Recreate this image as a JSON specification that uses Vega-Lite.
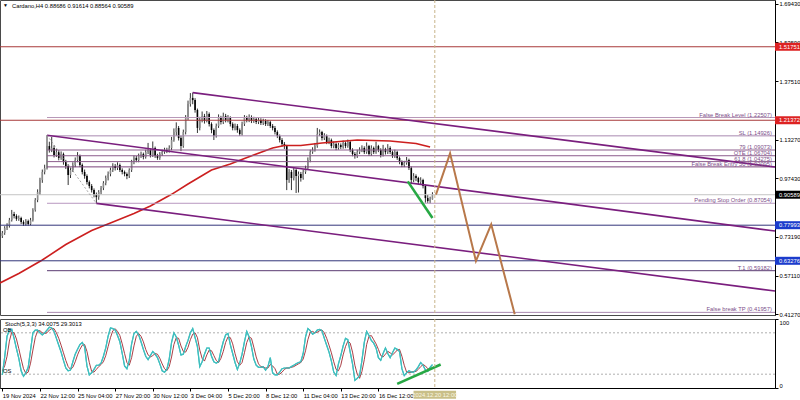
{
"$schema": "https://vega.github.io/schema/vega-lite/v6.json",
"background": "#ffffff",
"padding": {"left": -4, "top": -1, "right": 0, "bottom": 0},
"spacing": -3,
"config": {
 "view": {"stroke": "#4a4a4a", "strokeWidth": 1},
 "font": "Liberation Sans",
 "text": {"font": "Liberation Sans", "fontSize": 5.8},
 "axis": {"labelFont": "Liberation Sans", "labelFontSize": 5.8, "labelColor": "#000000", "domainColor": "#000000", "tickColor": "#000000", "grid": false}
},
"datasets": {
 "bars": [
{"t":"2024-11-19T20:00Z","o":0.735,"h":0.756,"l":0.727,"c":0.748,"k":19,"d":25},
{"t":"2024-11-20T00:00Z","o":0.748,"h":0.776,"l":0.740,"c":0.768,"k":45,"d":32},
{"t":"2024-11-20T04:00Z","o":0.768,"h":0.788,"l":0.760,"c":0.777,"k":75,"d":46},
{"t":"2024-11-20T08:00Z","o":0.777,"h":0.810,"l":0.770,"c":0.801,"k":84,"d":68},
{"t":"2024-11-20T12:00Z","o":0.801,"h":0.843,"l":0.795,"c":0.826,"k":85,"d":81},
{"t":"2024-11-20T16:00Z","o":0.826,"h":0.835,"l":0.808,"c":0.818,"k":72,"d":80},
{"t":"2024-11-20T20:00Z","o":0.818,"h":0.825,"l":0.798,"c":0.806,"k":57,"d":71},
{"t":"2024-11-21T00:00Z","o":0.806,"h":0.820,"l":0.798,"c":0.810,"k":43,"d":57},
{"t":"2024-11-21T04:00Z","o":0.810,"h":0.815,"l":0.785,"c":0.793,"k":25,"d":42},
{"t":"2024-11-21T08:00Z","o":0.793,"h":0.800,"l":0.777,"c":0.785,"k":17,"d":28},
{"t":"2024-11-21T12:00Z","o":0.785,"h":0.805,"l":0.778,"c":0.797,"k":22,"d":21},
{"t":"2024-11-21T16:00Z","o":0.797,"h":0.803,"l":0.778,"c":0.785,"k":30,"d":23},
{"t":"2024-11-21T20:00Z","o":0.785,"h":0.810,"l":0.780,"c":0.801,"k":55,"d":36},
{"t":"2024-11-22T00:00Z","o":0.801,"h":0.850,"l":0.795,"c":0.843,"k":80,"d":55},
{"t":"2024-11-22T04:00Z","o":0.843,"h":0.892,"l":0.836,"c":0.884,"k":84,"d":73},
{"t":"2024-11-22T08:00Z","o":0.884,"h":0.928,"l":0.875,"c":0.917,"k":84,"d":83},
{"t":"2024-11-22T12:00Z","o":0.917,"h":0.976,"l":0.905,"c":0.967,"k":80,"d":83},
{"t":"2024-11-22T16:00Z","o":0.967,"h":1.010,"l":0.955,"c":1.000,"k":77,"d":80},
{"t":"2024-11-22T20:00Z","o":1.000,"h":1.030,"l":0.990,"c":1.016,"k":80,"d":79},
{"t":"2024-11-23T00:00Z","o":1.016,"h":1.152,"l":1.010,"c":1.107,"k":84,"d":80},
{"t":"2024-11-23T04:00Z","o":1.107,"h":1.125,"l":1.080,"c":1.091,"k":88,"d":84},
{"t":"2024-11-23T08:00Z","o":1.091,"h":1.145,"l":1.082,"c":1.099,"k":87,"d":86},
{"t":"2024-11-23T12:00Z","o":1.099,"h":1.110,"l":1.060,"c":1.070,"k":82,"d":86},
{"t":"2024-11-23T16:00Z","o":1.070,"h":1.095,"l":1.062,"c":1.082,"k":72,"d":80},
{"t":"2024-11-23T20:00Z","o":1.082,"h":1.090,"l":1.048,"c":1.058,"k":62,"d":72},
{"t":"2024-11-24T00:00Z","o":1.058,"h":1.085,"l":1.050,"c":1.074,"k":52,"d":62},
{"t":"2024-11-24T04:00Z","o":1.074,"h":1.080,"l":1.030,"c":1.041,"k":40,"d":51},
{"t":"2024-11-24T08:00Z","o":1.041,"h":1.050,"l":1.012,"c":1.025,"k":29,"d":40},
{"t":"2024-11-24T12:00Z","o":1.025,"h":1.032,"l":0.946,"c":0.987,"k":25,"d":31},
{"t":"2024-11-24T16:00Z","o":0.987,"h":1.018,"l":0.975,"c":1.008,"k":26,"d":27},
{"t":"2024-11-24T20:00Z","o":1.008,"h":1.040,"l":1.000,"c":1.029,"k":38,"d":30},
{"t":"2024-11-25T00:00Z","o":1.029,"h":1.060,"l":1.020,"c":1.049,"k":49,"d":38},
{"t":"2024-11-25T04:00Z","o":1.049,"h":1.082,"l":1.040,"c":1.066,"k":56,"d":48},
{"t":"2024-11-25T08:00Z","o":1.066,"h":1.072,"l":1.020,"c":1.029,"k":63,"d":56},
{"t":"2024-11-25T12:00Z","o":1.029,"h":1.035,"l":0.990,"c":1.000,"k":66,"d":62},
{"t":"2024-11-25T16:00Z","o":1.000,"h":1.010,"l":0.972,"c":0.983,"k":60,"d":63},
{"t":"2024-11-25T20:00Z","o":0.983,"h":0.990,"l":0.948,"c":0.958,"k":32,"d":53},
{"t":"2024-11-26T00:00Z","o":0.958,"h":0.965,"l":0.932,"c":0.942,"k":19,"d":37},
{"t":"2024-11-26T04:00Z","o":0.942,"h":0.950,"l":0.915,"c":0.925,"k":22,"d":24},
{"t":"2024-11-26T08:00Z","o":0.925,"h":0.932,"l":0.895,"c":0.905,"k":27,"d":23},
{"t":"2024-11-26T12:00Z","o":0.905,"h":0.915,"l":0.870,"c":0.896,"k":33,"d":27},
{"t":"2024-11-26T16:00Z","o":0.896,"h":0.925,"l":0.885,"c":0.917,"k":33,"d":31},
{"t":"2024-11-26T20:00Z","o":0.917,"h":0.942,"l":0.908,"c":0.934,"k":36,"d":34},
{"t":"2024-11-27T00:00Z","o":0.934,"h":0.962,"l":0.925,"c":0.954,"k":46,"d":38},
{"t":"2024-11-27T04:00Z","o":0.954,"h":0.985,"l":0.945,"c":0.975,"k":58,"d":47},
{"t":"2024-11-27T08:00Z","o":0.975,"h":1.002,"l":0.965,"c":0.992,"k":75,"d":60},
{"t":"2024-11-27T12:00Z","o":0.992,"h":1.018,"l":0.982,"c":1.008,"k":87,"d":73},
{"t":"2024-11-27T16:00Z","o":1.008,"h":1.036,"l":1.000,"c":1.025,"k":86,"d":83},
{"t":"2024-11-27T20:00Z","o":1.025,"h":1.033,"l":1.006,"c":1.016,"k":84,"d":86},
{"t":"2024-11-28T00:00Z","o":1.016,"h":1.040,"l":1.008,"c":1.029,"k":76,"d":82},
{"t":"2024-11-28T04:00Z","o":1.029,"h":1.035,"l":1.000,"c":1.008,"k":67,"d":76},
{"t":"2024-11-28T08:00Z","o":1.008,"h":1.015,"l":0.990,"c":1.000,"k":50,"d":64},
{"t":"2024-11-28T12:00Z","o":1.000,"h":1.006,"l":0.982,"c":0.992,"k":32,"d":50},
{"t":"2024-11-28T16:00Z","o":0.992,"h":0.998,"l":0.970,"c":0.983,"k":28,"d":37},
{"t":"2024-11-28T20:00Z","o":0.983,"h":1.015,"l":0.975,"c":1.008,"k":40,"d":33},
{"t":"2024-11-29T00:00Z","o":1.008,"h":1.050,"l":1.000,"c":1.041,"k":64,"d":44},
{"t":"2024-11-29T04:00Z","o":1.041,"h":1.068,"l":1.032,"c":1.058,"k":79,"d":61},
{"t":"2024-11-29T08:00Z","o":1.058,"h":1.066,"l":1.040,"c":1.049,"k":82,"d":75},
{"t":"2024-11-29T12:00Z","o":1.049,"h":1.076,"l":1.040,"c":1.066,"k":77,"d":79},
{"t":"2024-11-29T16:00Z","o":1.066,"h":1.084,"l":1.058,"c":1.074,"k":67,"d":75},
{"t":"2024-11-29T20:00Z","o":1.074,"h":1.080,"l":1.052,"c":1.062,"k":56,"d":67},
{"t":"2024-11-30T00:00Z","o":1.062,"h":1.092,"l":1.055,"c":1.082,"k":46,"d":56},
{"t":"2024-11-30T04:00Z","o":1.082,"h":1.120,"l":1.074,"c":1.091,"k":41,"d":48},
{"t":"2024-11-30T08:00Z","o":1.091,"h":1.098,"l":1.060,"c":1.070,"k":47,"d":45},
{"t":"2024-11-30T12:00Z","o":1.070,"h":1.126,"l":1.062,"c":1.099,"k":53,"d":47},
{"t":"2024-11-30T16:00Z","o":1.099,"h":1.105,"l":1.058,"c":1.066,"k":49,"d":50},
{"t":"2024-11-30T20:00Z","o":1.066,"h":1.075,"l":1.050,"c":1.058,"k":44,"d":49},
{"t":"2024-12-01T00:00Z","o":1.058,"h":1.082,"l":1.050,"c":1.074,"k":35,"d":43},
{"t":"2024-12-01T04:00Z","o":1.074,"h":1.092,"l":1.066,"c":1.082,"k":25,"d":35},
{"t":"2024-12-01T08:00Z","o":1.082,"h":1.100,"l":1.075,"c":1.091,"k":23,"d":28},
{"t":"2024-12-01T12:00Z","o":1.091,"h":1.100,"l":1.078,"c":1.087,"k":27,"d":25},
{"t":"2024-12-01T16:00Z","o":1.087,"h":1.110,"l":1.080,"c":1.099,"k":42,"d":31},
{"t":"2024-12-01T20:00Z","o":1.099,"h":1.145,"l":1.090,"c":1.132,"k":66,"d":45},
{"t":"2024-12-02T00:00Z","o":1.132,"h":1.180,"l":1.125,"c":1.165,"k":80,"d":63},
{"t":"2024-12-02T04:00Z","o":1.165,"h":1.205,"l":1.150,"c":1.182,"k":74,"d":73},
{"t":"2024-12-02T08:00Z","o":1.182,"h":1.190,"l":1.130,"c":1.140,"k":62,"d":72},
{"t":"2024-12-02T12:00Z","o":1.140,"h":1.150,"l":1.086,"c":1.107,"k":48,"d":61},
{"t":"2024-12-02T16:00Z","o":1.107,"h":1.175,"l":1.100,"c":1.165,"k":49,"d":53},
{"t":"2024-12-02T20:00Z","o":1.165,"h":1.235,"l":1.155,"c":1.223,"k":60,"d":52},
{"t":"2024-12-03T00:00Z","o":1.223,"h":1.295,"l":1.215,"c":1.281,"k":69,"d":59},
{"t":"2024-12-03T04:00Z","o":1.281,"h":1.326,"l":1.270,"c":1.306,"k":80,"d":70},
{"t":"2024-12-03T08:00Z","o":1.306,"h":1.328,"l":1.280,"c":1.297,"k":86,"d":78},
{"t":"2024-12-03T12:00Z","o":1.297,"h":1.305,"l":1.245,"c":1.256,"k":73,"d":80},
{"t":"2024-12-03T16:00Z","o":1.256,"h":1.262,"l":1.161,"c":1.182,"k":60,"d":73},
{"t":"2024-12-03T20:00Z","o":1.182,"h":1.228,"l":1.172,"c":1.215,"k":31,"d":55},
{"t":"2024-12-04T00:00Z","o":1.215,"h":1.250,"l":1.205,"c":1.231,"k":38,"d":43},
{"t":"2024-12-04T04:00Z","o":1.231,"h":1.240,"l":1.200,"c":1.211,"k":49,"d":39},
{"t":"2024-12-04T08:00Z","o":1.211,"h":1.252,"l":1.205,"c":1.240,"k":58,"d":48},
{"t":"2024-12-04T12:00Z","o":1.240,"h":1.246,"l":1.188,"c":1.198,"k":58,"d":55},
{"t":"2024-12-04T16:00Z","o":1.198,"h":1.205,"l":1.160,"c":1.173,"k":46,"d":54},
{"t":"2024-12-04T20:00Z","o":1.173,"h":1.180,"l":1.132,"c":1.149,"k":38,"d":47},
{"t":"2024-12-05T00:00Z","o":1.149,"h":1.200,"l":1.142,"c":1.190,"k":36,"d":40},
{"t":"2024-12-05T04:00Z","o":1.190,"h":1.238,"l":1.182,"c":1.223,"k":38,"d":37},
{"t":"2024-12-05T08:00Z","o":1.223,"h":1.232,"l":1.196,"c":1.206,"k":54,"d":43},
{"t":"2024-12-05T12:00Z","o":1.206,"h":1.245,"l":1.198,"c":1.231,"k":67,"d":53},
{"t":"2024-12-05T16:00Z","o":1.231,"h":1.240,"l":1.205,"c":1.215,"k":77,"d":66},
{"t":"2024-12-05T20:00Z","o":1.215,"h":1.235,"l":1.205,"c":1.223,"k":79,"d":74},
{"t":"2024-12-06T00:00Z","o":1.223,"h":1.230,"l":1.188,"c":1.198,"k":63,"d":73},
{"t":"2024-12-06T04:00Z","o":1.198,"h":1.205,"l":1.172,"c":1.182,"k":50,"d":64},
{"t":"2024-12-06T08:00Z","o":1.182,"h":1.200,"l":1.172,"c":1.190,"k":37,"d":50},
{"t":"2024-12-06T12:00Z","o":1.190,"h":1.198,"l":1.162,"c":1.173,"k":27,"d":38},
{"t":"2024-12-06T16:00Z","o":1.173,"h":1.180,"l":1.149,"c":1.157,"k":36,"d":33},
{"t":"2024-12-06T20:00Z","o":1.157,"h":1.208,"l":1.150,"c":1.198,"k":49,"d":37},
{"t":"2024-12-07T00:00Z","o":1.198,"h":1.235,"l":1.190,"c":1.223,"k":67,"d":51},
{"t":"2024-12-07T04:00Z","o":1.223,"h":1.232,"l":1.205,"c":1.215,"k":82,"d":66},
{"t":"2024-12-07T08:00Z","o":1.215,"h":1.238,"l":1.206,"c":1.227,"k":74,"d":74},
{"t":"2024-12-07T12:00Z","o":1.227,"h":1.234,"l":1.202,"c":1.211,"k":60,"d":72},
{"t":"2024-12-07T16:00Z","o":1.211,"h":1.228,"l":1.203,"c":1.219,"k":42,"d":59},
{"t":"2024-12-07T20:00Z","o":1.219,"h":1.226,"l":1.198,"c":1.206,"k":33,"d":45},
{"t":"2024-12-08T00:00Z","o":1.206,"h":1.224,"l":1.198,"c":1.215,"k":30,"d":35},
{"t":"2024-12-08T04:00Z","o":1.215,"h":1.222,"l":1.194,"c":1.202,"k":30,"d":31},
{"t":"2024-12-08T08:00Z","o":1.202,"h":1.220,"l":1.194,"c":1.211,"k":31,"d":30},
{"t":"2024-12-08T12:00Z","o":1.211,"h":1.218,"l":1.190,"c":1.198,"k":26,"d":29},
{"t":"2024-12-08T16:00Z","o":1.198,"h":1.215,"l":1.190,"c":1.206,"k":31,"d":29},
{"t":"2024-12-08T20:00Z","o":1.206,"h":1.212,"l":1.182,"c":1.190,"k":44,"d":34},
{"t":"2024-12-09T00:00Z","o":1.190,"h":1.198,"l":1.172,"c":1.182,"k":22,"d":32},
{"t":"2024-12-09T04:00Z","o":1.182,"h":1.190,"l":1.155,"c":1.165,"k":19,"d":28},
{"t":"2024-12-09T08:00Z","o":1.165,"h":1.172,"l":1.140,"c":1.149,"k":19,"d":20},
{"t":"2024-12-09T12:00Z","o":1.149,"h":1.155,"l":1.122,"c":1.132,"k":23,"d":20},
{"t":"2024-12-09T16:00Z","o":1.132,"h":1.140,"l":1.105,"c":1.116,"k":28,"d":23},
{"t":"2024-12-09T20:00Z","o":1.116,"h":1.124,"l":1.095,"c":1.107,"k":29,"d":27},
{"t":"2024-12-10T00:00Z","o":1.107,"h":1.112,"l":0.925,"c":0.967,"k":29,"d":29},
{"t":"2024-12-10T04:00Z","o":0.967,"h":1.012,"l":0.955,"c":1.000,"k":29,"d":29},
{"t":"2024-12-10T08:00Z","o":1.000,"h":1.008,"l":0.925,"c":0.975,"k":31,"d":30},
{"t":"2024-12-10T12:00Z","o":0.975,"h":1.018,"l":0.965,"c":1.008,"k":33,"d":31},
{"t":"2024-12-10T16:00Z","o":1.008,"h":1.015,"l":0.913,"c":0.983,"k":35,"d":33},
{"t":"2024-12-10T20:00Z","o":0.983,"h":1.002,"l":0.915,"c":0.992,"k":37,"d":35},
{"t":"2024-12-11T00:00Z","o":0.992,"h":1.000,"l":0.960,"c":0.975,"k":38,"d":37},
{"t":"2024-12-11T04:00Z","o":0.975,"h":1.010,"l":0.968,"c":1.000,"k":50,"d":42},
{"t":"2024-12-11T08:00Z","o":1.000,"h":1.026,"l":0.992,"c":1.016,"k":74,"d":54},
{"t":"2024-12-11T12:00Z","o":1.016,"h":1.060,"l":1.008,"c":1.049,"k":86,"d":70},
{"t":"2024-12-11T16:00Z","o":1.049,"h":1.092,"l":1.040,"c":1.082,"k":83,"d":81},
{"t":"2024-12-11T20:00Z","o":1.082,"h":1.102,"l":1.075,"c":1.091,"k":78,"d":82},
{"t":"2024-12-12T00:00Z","o":1.091,"h":1.120,"l":1.084,"c":1.107,"k":80,"d":80},
{"t":"2024-12-12T04:00Z","o":1.107,"h":1.182,"l":1.100,"c":1.157,"k":84,"d":81},
{"t":"2024-12-12T08:00Z","o":1.157,"h":1.176,"l":1.148,"c":1.165,"k":85,"d":83},
{"t":"2024-12-12T12:00Z","o":1.165,"h":1.170,"l":1.130,"c":1.140,"k":83,"d":84},
{"t":"2024-12-12T16:00Z","o":1.140,"h":1.160,"l":1.132,"c":1.149,"k":72,"d":80},
{"t":"2024-12-12T20:00Z","o":1.149,"h":1.155,"l":1.115,"c":1.124,"k":62,"d":72},
{"t":"2024-12-13T00:00Z","o":1.124,"h":1.142,"l":1.115,"c":1.132,"k":52,"d":62},
{"t":"2024-12-13T04:00Z","o":1.132,"h":1.138,"l":1.098,"c":1.107,"k":39,"d":51},
{"t":"2024-12-13T08:00Z","o":1.107,"h":1.126,"l":1.098,"c":1.116,"k":23,"d":38},
{"t":"2024-12-13T12:00Z","o":1.116,"h":1.122,"l":1.090,"c":1.099,"k":18,"d":27},
{"t":"2024-12-13T16:00Z","o":1.099,"h":1.120,"l":1.092,"c":1.111,"k":35,"d":25},
{"t":"2024-12-13T20:00Z","o":1.111,"h":1.118,"l":1.095,"c":1.103,"k":47,"d":33},
{"t":"2024-12-14T00:00Z","o":1.103,"h":1.130,"l":1.096,"c":1.120,"k":61,"d":48},
{"t":"2024-12-14T04:00Z","o":1.120,"h":1.126,"l":1.098,"c":1.107,"k":72,"d":60},
{"t":"2024-12-14T08:00Z","o":1.107,"h":1.134,"l":1.100,"c":1.124,"k":70,"d":68},
{"t":"2024-12-14T12:00Z","o":1.124,"h":1.130,"l":1.082,"c":1.091,"k":52,"d":65},
{"t":"2024-12-14T16:00Z","o":1.091,"h":1.098,"l":1.065,"c":1.074,"k":35,"d":52},
{"t":"2024-12-14T20:00Z","o":1.074,"h":1.082,"l":1.055,"c":1.066,"k":11,"d":33},
{"t":"2024-12-15T00:00Z","o":1.066,"h":1.092,"l":1.058,"c":1.082,"k":14,"d":20},
{"t":"2024-12-15T04:00Z","o":1.082,"h":1.102,"l":1.074,"c":1.091,"k":18,"d":14},
{"t":"2024-12-15T08:00Z","o":1.091,"h":1.110,"l":1.082,"c":1.099,"k":40,"d":24},
{"t":"2024-12-15T12:00Z","o":1.099,"h":1.106,"l":1.074,"c":1.082,"k":66,"d":41},
{"t":"2024-12-15T16:00Z","o":1.082,"h":1.122,"l":1.075,"c":1.107,"k":82,"d":63},
{"t":"2024-12-15T20:00Z","o":1.107,"h":1.112,"l":1.066,"c":1.074,"k":76,"d":75},
{"t":"2024-12-16T00:00Z","o":1.074,"h":1.110,"l":1.066,"c":1.099,"k":69,"d":76},
{"t":"2024-12-16T04:00Z","o":1.099,"h":1.105,"l":1.074,"c":1.082,"k":65,"d":70},
{"t":"2024-12-16T08:00Z","o":1.082,"h":1.125,"l":1.075,"c":1.107,"k":58,"d":64},
{"t":"2024-12-16T12:00Z","o":1.107,"h":1.112,"l":1.082,"c":1.091,"k":44,"d":56},
{"t":"2024-12-16T16:00Z","o":1.091,"h":1.098,"l":1.060,"c":1.070,"k":40,"d":47},
{"t":"2024-12-16T20:00Z","o":1.070,"h":1.112,"l":1.064,"c":1.095,"k":50,"d":45},
{"t":"2024-12-17T00:00Z","o":1.095,"h":1.100,"l":1.072,"c":1.082,"k":58,"d":49},
{"t":"2024-12-17T04:00Z","o":1.082,"h":1.115,"l":1.074,"c":1.099,"k":50,"d":53},
{"t":"2024-12-17T08:00Z","o":1.099,"h":1.106,"l":1.074,"c":1.082,"k":44,"d":51},
{"t":"2024-12-17T12:00Z","o":1.082,"h":1.088,"l":1.058,"c":1.066,"k":51,"d":48},
{"t":"2024-12-17T16:00Z","o":1.066,"h":1.092,"l":1.058,"c":1.082,"k":58,"d":51},
{"t":"2024-12-17T20:00Z","o":1.082,"h":1.088,"l":1.050,"c":1.058,"k":56,"d":55},
{"t":"2024-12-18T00:00Z","o":1.058,"h":1.064,"l":1.032,"c":1.041,"k":53,"d":56},
{"t":"2024-12-18T04:00Z","o":1.041,"h":1.048,"l":1.020,"c":1.029,"k":28,"d":46},
{"t":"2024-12-18T08:00Z","o":1.029,"h":1.046,"l":1.020,"c":1.037,"k":18,"d":33},
{"t":"2024-12-18T12:00Z","o":1.037,"h":1.062,"l":1.030,"c":1.049,"k":22,"d":23},
{"t":"2024-12-18T16:00Z","o":1.049,"h":1.055,"l":1.008,"c":1.016,"k":25,"d":22},
{"t":"2024-12-18T20:00Z","o":1.016,"h":1.022,"l":0.950,"c":0.967,"k":23,"d":23},
{"t":"2024-12-19T00:00Z","o":0.967,"h":0.995,"l":0.958,"c":0.983,"k":23,"d":24},
{"t":"2024-12-19T04:00Z","o":0.983,"h":0.990,"l":0.962,"c":0.975,"k":26,"d":24},
{"t":"2024-12-19T08:00Z","o":0.975,"h":0.980,"l":0.948,"c":0.958,"k":31,"d":27},
{"t":"2024-12-19T12:00Z","o":0.958,"h":0.978,"l":0.950,"c":0.967,"k":37,"d":31},
{"t":"2024-12-19T16:00Z","o":0.967,"h":0.972,"l":0.932,"c":0.942,"k":33,"d":34},
{"t":"2024-12-19T20:00Z","o":0.942,"h":0.948,"l":0.873,"c":0.892,"k":26,"d":32},
{"t":"2024-12-20T00:00Z","o":0.892,"h":0.905,"l":0.872,"c":0.880,"k":24,"d":28},
{"t":"2024-12-20T04:00Z","o":0.880,"h":0.898,"l":0.870,"c":0.887,"k":30,"d":27},
{"t":"2024-12-20T08:00Z","o":0.88686,"h":0.91614,"l":0.88564,"c":0.90589,"k":34.0075,"d":29.3013}
 ],
 "ma": [
{"t":"2024-11-19T16:00Z","p":0.5409},
{"t":"2024-11-21T00:00Z","p":0.5802},
{"t":"2024-11-22T16:00Z","p":0.6360},
{"t":"2024-11-24T08:00Z","p":0.7000},
{"t":"2024-11-26T04:00Z","p":0.7579},
{"t":"2024-11-27T12:00Z","p":0.7889},
{"t":"2024-11-29T04:00Z","p":0.8282},
{"t":"2024-11-30T08:00Z","p":0.8592},
{"t":"2024-12-01T20:00Z","p":0.9076},
{"t":"2024-12-03T00:00Z","p":0.9501},
{"t":"2024-12-04T16:00Z","p":1.0080},
{"t":"2024-12-06T00:00Z","p":1.0328},
{"t":"2024-12-07T00:00Z","p":1.0556},
{"t":"2024-12-09T00:00Z","p":1.0990},
{"t":"2024-12-09T20:00Z","p":1.1093},
{"t":"2024-12-11T00:00Z","p":1.1093},
{"t":"2024-12-12T12:00Z","p":1.1196},
{"t":"2024-12-15T00:00Z","p":1.1320},
{"t":"2024-12-17T08:00Z","p":1.1279},
{"t":"2024-12-19T04:00Z","p":1.1176},
{"t":"2024-12-20T04:00Z","p":1.1031}
 ],
 "hlines": [
{"p":1.51751,"kind":"upper"},
{"p":1.21372,"kind":"upper"},
{"p":0.90589,"kind":"bid"},
{"p":0.77993,"kind":"lower"},
{"p":0.63276,"kind":"lower"}
 ],
 "levels": [
{"t":"2024-11-23T00:00Z","t2":"2025-01-13T15:00Z","p":1.22507,"kind":"fbl","label":"False Break Level (1.22507)"},
{"t":"2024-11-23T00:00Z","t2":"2025-01-13T15:00Z","p":1.14926,"kind":"sl","label":"SL (1.14926)"},
{"t":"2024-11-23T00:00Z","t2":"2025-01-13T15:00Z","p":1.09073,"kind":"fib","label":"79 (1.09073)"},
{"t":"2024-11-23T00:00Z","t2":"2025-01-13T15:00Z","p":1.06704,"kind":"fib","label":"OTE (1.06704)"},
{"t":"2024-11-23T00:00Z","t2":"2025-01-13T15:00Z","p":1.04275,"kind":"fib","label":"61.8 (1.04275)"},
{"t":"2024-11-23T00:00Z","t2":"2025-01-13T15:00Z","p":1.02095,"kind":"entry","label":"False Break Entry 50 (1.02095)"},
{"t":"2024-11-23T00:00Z","t2":"2025-01-13T15:00Z","p":0.87054,"kind":"pending","label":"Pending Stop Order (0.87054)"},
{"t":"2024-11-23T00:00Z","t2":"2025-01-13T15:00Z","p":0.59182,"kind":"target","label":"T.1 (0.59182)"},
{"t":"2024-11-23T00:00Z","t2":"2025-01-13T15:00Z","p":0.41957,"kind":"tp","label":"False break TP (0.41957)"}
 ],
 "channels": [
{"t":"2024-12-03T08:00Z","p":1.328,"t2":"2025-01-13T15:00Z","p2":1.0204},
{"t":"2024-11-23T00:00Z","p":1.152,"t2":"2025-01-13T15:00Z","p2":0.7558},
{"t":"2024-11-26T12:00Z","p":0.870,"t2":"2025-01-13T15:00Z","p2":0.5078}
 ],
 "guide": [
{"t":"2024-11-23T00:00Z","p":1.152,"t2":"2024-11-26T12:00Z","p2":0.870}
 ],
 "divergence": [
{"t":"2024-12-18T14:00Z","p":0.961,"t2":"2024-12-20T08:00Z","p2":0.810}
 ],
 "proj": [
{"t":"2024-12-20T14:00Z","p":0.906},
{"t":"2024-12-21T14:00Z","p":1.077},
{"t":"2024-12-23T10:00Z","p":0.632},
{"t":"2024-12-24T12:00Z","p":0.7835},
{"t":"2024-12-26T04:00Z","p":0.412}
 ],
 "cursor": [
{"t":"2024-12-20T12:00Z","label":"2024.12.20 12:00"}
 ],
 "badges": [
{"t":"2025-01-13T15:00Z","p":1.51751,"label":"1.51751","kind":"upper"},
{"t":"2025-01-13T15:00Z","p":1.21372,"label":"1.21372","kind":"upper"},
{"t":"2025-01-13T15:00Z","p":0.90589,"label":"0.90589","kind":"bid"},
{"t":"2025-01-13T15:00Z","p":0.77993,"label":"0.77993","kind":"lower"},
{"t":"2025-01-13T15:00Z","p":0.63276,"label":"0.63276","kind":"lower"}
 ],
 "header": [
{"t":"2024-11-19T16:00Z","p":1.7108,"label":"Cardano,H4 0.88686 0.91614 0.88564 0.90589"}
 ],
 "stochlv": [
{"t":"2024-11-19T16:00Z","v":80,"name":"OB"},
{"t":"2024-11-19T16:00Z","v":20,"name":"OS"}
 ],
 "stochhead": [
{"t":"2024-11-19T16:00Z","v":100,"label":"Stoch(5,3,3) 34.0075 29.3013"}
 ],
 "stochdiv": [
{"t":"2024-12-17T20:00Z","v":6,"t2":"2024-12-20T22:00Z","v2":34}
 ]
},
"vconcat": [
 {
  "width": 775,
  "height": 315,
  "resolve": {"scale": {"color": "independent"}},
  "layer": [
   {"data": {"name": "bars"}, "mark": {"type": "rule", "color": "#000000", "strokeWidth": 0.8},
    "encoding": {
     "x": {"field": "t", "type": "temporal", "scale": {"type": "utc", "domain": [{"year":2024,"month":11,"date":19,"hours":16,"utc":true},{"year":2025,"month":1,"date":13,"hours":15,"utc":true}]}, "axis": null},
     "y": {"field": "l", "type": "quantitative", "scale": {"domain": [0.4087, 1.7108], "zero": false, "nice": false},
       "axis": {"orient": "right", "title": null, "values": [1.6943,1.6151,1.5359,1.4543,1.3751,1.2935,1.1327,1.0535,0.9743,0.8135,0.7319,0.6527,0.5711,0.4919,0.4127], "format": ".5f", "tickSize": 3, "labelPadding": 1, "labelOverlap": false, "grid": false}},
     "y2": {"field": "h"}
    }},
   {"data": {"name": "bars"}, "mark": {"type": "rule", "strokeWidth": 1.6},
    "encoding": {
     "x": {"field": "t", "type": "temporal", "scale": {"type": "utc", "domain": [{"year":2024,"month":11,"date":19,"hours":16,"utc":true},{"year":2025,"month":1,"date":13,"hours":15,"utc":true}]}, "axis": null},
     "y": {"field": "o", "type": "quantitative", "scale": {"domain": [0.4087, 1.7108], "zero": false, "nice": false}},
     "y2": {"field": "c"},
     "color": {"condition": {"test": "datum.c >= datum.o", "value": "#8a8a8a"}, "value": "#000000"}
    }},
   {"data": {"name": "ma"}, "mark": {"type": "line", "color": "#cc1f1f", "strokeWidth": 1.6},
    "encoding": {
     "x": {"field": "t", "type": "temporal", "scale": {"type": "utc", "domain": [{"year":2024,"month":11,"date":19,"hours":16,"utc":true},{"year":2025,"month":1,"date":13,"hours":15,"utc":true}]}, "axis": null},
     "y": {"field": "p", "type": "quantitative", "scale": {"domain": [0.4087, 1.7108], "zero": false, "nice": false}}
    }},
   {"data": {"name": "hlines"}, "mark": {"type": "rule", "strokeWidth": 1},
    "encoding": {
     "y": {"field": "p", "type": "quantitative", "scale": {"domain": [0.4087, 1.7108], "zero": false, "nice": false}},
     "color": {"field": "kind", "type": "nominal", "scale": {"domain": ["upper","bid","lower"], "range": ["#a83a3a","#c4c4c4","#33357a"]}, "legend": null}
    }},
   {"data": {"name": "levels"}, "mark": {"type": "rule", "strokeWidth": 1},
    "encoding": {
     "x": {"field": "t", "type": "temporal", "scale": {"type": "utc", "domain": [{"year":2024,"month":11,"date":19,"hours":16,"utc":true},{"year":2025,"month":1,"date":13,"hours":15,"utc":true}]}, "axis": null},
     "x2": {"field": "t2"},
     "y": {"field": "p", "type": "quantitative", "scale": {"domain": [0.4087, 1.7108], "zero": false, "nice": false}},
     "color": {"field": "kind", "type": "nominal", "scale": {"domain": ["fbl","sl","fib","entry","pending","target","tp"], "range": ["#b898b8","#a888b0","#8c5c8c","#7a427a","#b898c0","#5a3a72","#a888b0"]}, "legend": null}
    }},
   {"data": {"name": "channels"}, "mark": {"type": "rule", "color": "#7a1e7e", "strokeWidth": 1.6},
    "encoding": {
     "x": {"field": "t", "type": "temporal", "scale": {"type": "utc", "domain": [{"year":2024,"month":11,"date":19,"hours":16,"utc":true},{"year":2025,"month":1,"date":13,"hours":15,"utc":true}]}, "axis": null},
     "x2": {"field": "t2"},
     "y": {"field": "p", "type": "quantitative", "scale": {"domain": [0.4087, 1.7108], "zero": false, "nice": false}},
     "y2": {"field": "p2"}
    }},
   {"data": {"name": "guide"}, "mark": {"type": "rule", "color": "#909090", "strokeWidth": 0.8, "strokeDash": [2, 2]},
    "encoding": {
     "x": {"field": "t", "type": "temporal", "scale": {"type": "utc", "domain": [{"year":2024,"month":11,"date":19,"hours":16,"utc":true},{"year":2025,"month":1,"date":13,"hours":15,"utc":true}]}, "axis": null},
     "x2": {"field": "t2"},
     "y": {"field": "p", "type": "quantitative", "scale": {"domain": [0.4087, 1.7108], "zero": false, "nice": false}},
     "y2": {"field": "p2"}
    }},
   {"data": {"name": "divergence"}, "mark": {"type": "rule", "color": "#27a844", "strokeWidth": 2.6},
    "encoding": {
     "x": {"field": "t", "type": "temporal", "scale": {"type": "utc", "domain": [{"year":2024,"month":11,"date":19,"hours":16,"utc":true},{"year":2025,"month":1,"date":13,"hours":15,"utc":true}]}, "axis": null},
     "x2": {"field": "t2"},
     "y": {"field": "p", "type": "quantitative", "scale": {"domain": [0.4087, 1.7108], "zero": false, "nice": false}},
     "y2": {"field": "p2"}
    }},
   {"data": {"name": "proj"}, "mark": {"type": "line", "color": "#b8784a", "strokeWidth": 2},
    "encoding": {
     "x": {"field": "t", "type": "temporal", "scale": {"type": "utc", "domain": [{"year":2024,"month":11,"date":19,"hours":16,"utc":true},{"year":2025,"month":1,"date":13,"hours":15,"utc":true}]}, "axis": null},
     "y": {"field": "p", "type": "quantitative", "scale": {"domain": [0.4087, 1.7108], "zero": false, "nice": false}}
    }},
   {"data": {"name": "cursor"}, "mark": {"type": "rule", "color": "#c8b48a", "strokeWidth": 1, "strokeDash": [3, 2]},
    "encoding": {
     "x": {"field": "t", "type": "temporal", "scale": {"type": "utc", "domain": [{"year":2024,"month":11,"date":19,"hours":16,"utc":true},{"year":2025,"month":1,"date":13,"hours":15,"utc":true}]}, "axis": null}
    }},
   {"data": {"name": "levels"}, "mark": {"type": "text", "align": "right", "baseline": "bottom", "dx": -3, "dy": 0, "color": "#7d4f8a"},
    "encoding": {
     "x": {"field": "t2", "type": "temporal", "scale": {"type": "utc", "domain": [{"year":2024,"month":11,"date":19,"hours":16,"utc":true},{"year":2025,"month":1,"date":13,"hours":15,"utc":true}]}, "axis": null},
     "y": {"field": "p", "type": "quantitative", "scale": {"domain": [0.4087, 1.7108], "zero": false, "nice": false}},
     "text": {"field": "label"}
    }},
   {"data": {"name": "header"}, "mark": {"type": "text", "text": "▼", "align": "left", "baseline": "top", "dx": 3, "dy": 3, "fontSize": 5, "color": "#000000"},
    "encoding": {
     "x": {"field": "t", "type": "temporal", "scale": {"type": "utc", "domain": [{"year":2024,"month":11,"date":19,"hours":16,"utc":true},{"year":2025,"month":1,"date":13,"hours":15,"utc":true}]}, "axis": null},
     "y": {"field": "p", "type": "quantitative", "scale": {"domain": [0.4087, 1.7108], "zero": false, "nice": false}}
    }},
   {"data": {"name": "header"}, "mark": {"type": "text", "align": "left", "baseline": "top", "dx": 12, "dy": 2.5, "color": "#000000"},
    "encoding": {
     "x": {"field": "t", "type": "temporal", "scale": {"type": "utc", "domain": [{"year":2024,"month":11,"date":19,"hours":16,"utc":true},{"year":2025,"month":1,"date":13,"hours":15,"utc":true}]}, "axis": null},
     "y": {"field": "p", "type": "quantitative", "scale": {"domain": [0.4087, 1.7108], "zero": false, "nice": false}},
     "text": {"field": "label"}
    }},
   {"data": {"name": "badges"}, "mark": {"type": "point", "shape": "M0,-0.32H2V0.32H0Z", "size": 625, "filled": true, "opacity": 1, "strokeWidth": 0},
    "encoding": {
     "x": {"field": "t", "type": "temporal", "scale": {"type": "utc", "domain": [{"year":2024,"month":11,"date":19,"hours":16,"utc":true},{"year":2025,"month":1,"date":13,"hours":15,"utc":true}]}, "axis": null},
     "y": {"field": "p", "type": "quantitative", "scale": {"domain": [0.4087, 1.7108], "zero": false, "nice": false}},
     "color": {"field": "kind", "type": "nominal", "scale": {"domain": ["upper","bid","lower"], "range": ["#dd2222","#000000","#1c3ccc"]}, "legend": null}
    }},
   {"data": {"name": "badges"}, "mark": {"type": "text", "align": "left", "baseline": "middle", "dx": 4, "color": "#ffffff"},
    "encoding": {
     "x": {"field": "t", "type": "temporal", "scale": {"type": "utc", "domain": [{"year":2024,"month":11,"date":19,"hours":16,"utc":true},{"year":2025,"month":1,"date":13,"hours":15,"utc":true}]}, "axis": null},
     "y": {"field": "p", "type": "quantitative", "scale": {"domain": [0.4087, 1.7108], "zero": false, "nice": false}},
     "text": {"field": "label"}
    }}
  ]
 },
 {
  "width": 775,
  "height": 69,
  "layer": [
   {"data": {"name": "bars"}, "mark": {"type": "line", "color": "#3fbfbf", "strokeWidth": 1.2},
    "encoding": {
     "x": {"field": "t", "type": "temporal", "scale": {"type": "utc", "domain": [{"year":2024,"month":11,"date":19,"hours":16,"utc":true},{"year":2025,"month":1,"date":13,"hours":15,"utc":true}]},
       "axis": {"orient": "bottom", "title": null, "grid": false, "values": [{"year":2024,"month":11,"date":19,"hours":20,"utc":true},{"year":2024,"month":11,"date":22,"hours":12,"utc":true},{"year":2024,"month":11,"date":25,"hours":4,"utc":true},{"year":2024,"month":11,"date":27,"hours":20,"utc":true},{"year":2024,"month":11,"date":30,"hours":12,"utc":true},{"year":2024,"month":12,"date":3,"hours":4,"utc":true},{"year":2024,"month":12,"date":5,"hours":20,"utc":true},{"year":2024,"month":12,"date":8,"hours":12,"utc":true},{"year":2024,"month":12,"date":11,"hours":4,"utc":true},{"year":2024,"month":12,"date":13,"hours":20,"utc":true},{"year":2024,"month":12,"date":16,"hours":12,"utc":true}],
        "labelExpr": "datum.index == 0 ? utcFormat(datum.value, '%-d %b %Y') : utcFormat(datum.value, '%-d %b %H:%M')",
        "labelAlign": "left", "labelPadding": 1, "tickSize": 3, "labelOverlap": false, "labelFlush": false}},
     "y": {"field": "k", "type": "quantitative", "scale": {"domain": [0, 100], "zero": false, "nice": false},
       "axis": {"orient": "right", "title": null, "grid": false, "values": [0, 20, 80, 100], "labelFlush": true, "tickSize": 3, "labelPadding": 1, "labelOverlap": false}}
    }},
   {"data": {"name": "stochlv"}, "mark": {"type": "rule", "color": "#9a9a9a", "strokeWidth": 0.8, "strokeDash": [2, 2]},
    "encoding": {
     "y": {"field": "v", "type": "quantitative", "scale": {"domain": [0, 100], "zero": false, "nice": false}}
    }},
   {"data": {"name": "bars"}, "mark": {"type": "line", "color": "#a02830", "strokeWidth": 0.9},
    "encoding": {
     "x": {"field": "t", "type": "temporal", "scale": {"type": "utc", "domain": [{"year":2024,"month":11,"date":19,"hours":16,"utc":true},{"year":2025,"month":1,"date":13,"hours":15,"utc":true}]}},
     "y": {"field": "d", "type": "quantitative", "scale": {"domain": [0, 100], "zero": false, "nice": false}}
    }},
   {"data": {"name": "bars"}, "mark": {"type": "line", "color": "#3fbfbf", "strokeWidth": 1.2},
    "encoding": {
     "x": {"field": "t", "type": "temporal", "scale": {"type": "utc", "domain": [{"year":2024,"month":11,"date":19,"hours":16,"utc":true},{"year":2025,"month":1,"date":13,"hours":15,"utc":true}]}},
     "y": {"field": "k", "type": "quantitative", "scale": {"domain": [0, 100], "zero": false, "nice": false}}
    }},
   {"data": {"name": "stochdiv"}, "mark": {"type": "rule", "color": "#27a844", "strokeWidth": 2.6},
    "encoding": {
     "x": {"field": "t", "type": "temporal", "scale": {"type": "utc", "domain": [{"year":2024,"month":11,"date":19,"hours":16,"utc":true},{"year":2025,"month":1,"date":13,"hours":15,"utc":true}]}},
     "x2": {"field": "t2"},
     "y": {"field": "v", "type": "quantitative", "scale": {"domain": [0, 100], "zero": false, "nice": false}},
     "y2": {"field": "v2"}
    }},
   {"data": {"name": "cursor"}, "mark": {"type": "rule", "color": "#c8b48a", "strokeWidth": 1, "strokeDash": [3, 2]},
    "encoding": {
     "x": {"field": "t", "type": "temporal", "scale": {"type": "utc", "domain": [{"year":2024,"month":11,"date":19,"hours":16,"utc":true},{"year":2025,"month":1,"date":13,"hours":15,"utc":true}]}}
    }},
   {"data": {"name": "stochlv"}, "mark": {"type": "text", "align": "left", "baseline": "bottom", "dx": 3, "dy": 0, "color": "#000000"},
    "encoding": {
     "x": {"field": "t", "type": "temporal", "scale": {"type": "utc", "domain": [{"year":2024,"month":11,"date":19,"hours":16,"utc":true},{"year":2025,"month":1,"date":13,"hours":15,"utc":true}]}},
     "y": {"field": "v", "type": "quantitative", "scale": {"domain": [0, 100], "zero": false, "nice": false}},
     "text": {"field": "name"}
    }},
   {"data": {"name": "stochhead"}, "mark": {"type": "text", "align": "left", "baseline": "top", "dx": 5, "dy": 2, "color": "#000000"},
    "encoding": {
     "x": {"field": "t", "type": "temporal", "scale": {"type": "utc", "domain": [{"year":2024,"month":11,"date":19,"hours":16,"utc":true},{"year":2025,"month":1,"date":13,"hours":15,"utc":true}]}},
     "y": {"field": "v", "type": "quantitative", "scale": {"domain": [0, 100], "zero": false, "nice": false}},
     "text": {"field": "label"}
    }},
   {"data": {"name": "cursor"}, "mark": {"type": "point", "shape": "M-1.7,0.22H1.7V0.86H-1.7Z", "size": 625, "filled": true, "opacity": 1, "strokeWidth": 0, "color": "#c9bf88"},
    "encoding": {
     "x": {"field": "t", "type": "temporal", "scale": {"type": "utc", "domain": [{"year":2024,"month":11,"date":19,"hours":16,"utc":true},{"year":2025,"month":1,"date":13,"hours":15,"utc":true}]}},
     "y": {"datum": 0, "type": "quantitative", "scale": {"domain": [0, 100], "zero": false, "nice": false}}
    }},
   {"data": {"name": "cursor"}, "mark": {"type": "text", "align": "center", "baseline": "middle", "dy": 6.8, "color": "#fbf7e4"},
    "encoding": {
     "x": {"field": "t", "type": "temporal", "scale": {"type": "utc", "domain": [{"year":2024,"month":11,"date":19,"hours":16,"utc":true},{"year":2025,"month":1,"date":13,"hours":15,"utc":true}]}},
     "y": {"datum": 0, "type": "quantitative", "scale": {"domain": [0, 100], "zero": false, "nice": false}},
     "text": {"field": "label"}
    }}
  ]
 }
]
}
